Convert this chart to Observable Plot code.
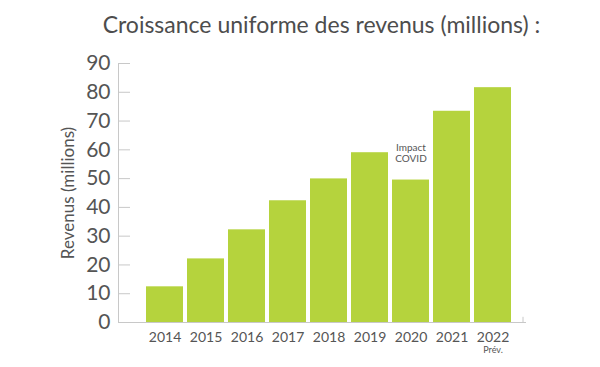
<!DOCTYPE html>
<html>
<head>
<meta charset="utf-8">
<script src="https://cdn.jsdelivr.net/npm/d3@7"></script>
<script src="https://cdn.jsdelivr.net/npm/@observablehq/plot@0.6"></script>
<style>
  body { margin: 0; background: #fff; font-family: Lato, "Open Sans", sans-serif; }
  #title { width: 600px; height: 48px; line-height: 48px; box-sizing: border-box; padding-left: 43px;
           text-align: center; font-size: 23px; color: #4d4d4d; }
</style>
</head>
<body>
<div id="title">Croissance uniforme des revenus (millions) :</div>
<div id="chart"></div>
<script>
const years = ["2014", "2015", "2016", "2017", "2018", "2019", "2020", "2021", "2022"];
const revenue = [12.4, 22.1, 32.2, 42.3, 49.9, 59.0, 49.5, 73.4, 81.6];
const yTicks = [0, 10, 20, 30, 40, 50, 60, 70, 80, 90];
const subLabels = [{year: "2022", text: "Prév."}];
const notes = [{year: "2020", text: "Impact\nCOVID"}];

const data = years.map((year, i) => ({year, value: revenue[i]}));
const valueOf = Object.fromEntries(data.map(d => [d.year, d.value]));
const textColor = "#555";
const lineColor = "#c8c8c8";

const chart = Plot.plot({
  width: 600,
  height: 319,
  marginLeft: 118,
  marginRight: 75,
  marginTop: 15,
  marginBottom: 45,
  style: {fontFamily: "Lato, 'Open Sans', sans-serif", background: "#fff"},
  x: {domain: years, range: [142, 515.5], paddingInner: 0.1, paddingOuter: 0.05, label: null},
  y: {domain: [0, 90], label: null},
  marks: [
    Plot.barY(data, {x: "year", y: "value", fill: "#b5d33d"}),
    Plot.frame({anchor: "left", stroke: lineColor}),
    Plot.frame({anchor: "bottom", stroke: lineColor}),
    Plot.ruleY(yTicks, {y: d => d, insetRight: 395, stroke: lineColor}),
    Plot.ruleX([years[years.length - 1]], {x: d => d, y1: 0, y2: 1.8, dx: 30, stroke: lineColor}),
    Plot.axisY({ticks: yTicks, tickSize: 0, tickPadding: 8, fontSize: 21, color: textColor,
                label: null}),
    Plot.text(["Revenus (millions)"], {text: d => d, frameAnchor: "left", textAnchor: "middle",
                rotate: -90, dx: -50, fontSize: 17, fill: textColor}),
    Plot.axisX({tickSize: 0, tickPadding: 10, fontSize: 14, color: textColor, label: null}),
    Plot.text(subLabels, {x: "year", y: () => 0, text: "text", dy: 28, fontSize: 9, fill: textColor}),
    Plot.text(notes, {x: "year", y: d => valueOf[d.year], text: "text", dy: -18, lineAnchor: "bottom",
                      fontSize: 10, fill: textColor, lineHeight: 1.15})
  ]
});
document.getElementById("chart").appendChild(chart);
</script>
</body>
</html>
